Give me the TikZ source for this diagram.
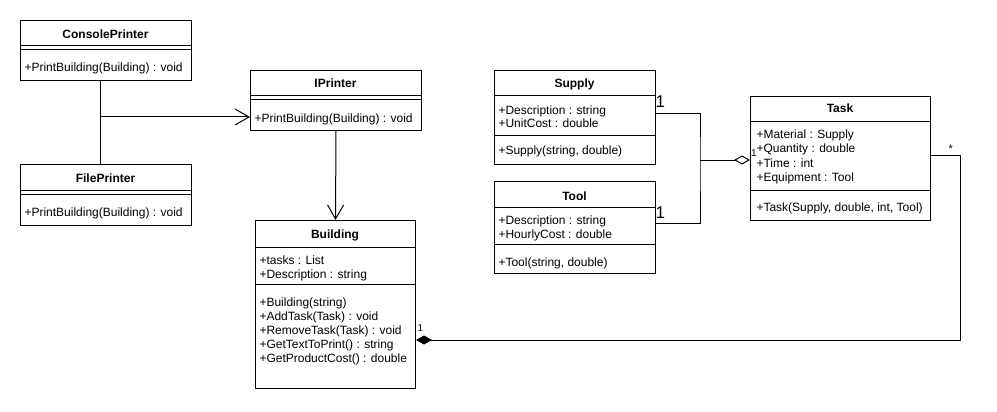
\documentclass[tikz,border=0pt]{standalone}
\usepackage{fontspec}
\setmainfont{Liberation Sans}
\usetikzlibrary{arrows.meta}

\begin{document}
\begin{tikzpicture}[x=1pt, y=-1pt, line width=1pt,
		classbox/.style={draw, anchor=north west, inner sep=0pt},
		title/.style={font=\fontsize{12}{14}\selectfont\bfseries, inner sep=0pt, anchor=base},
		member/.style={font=\fontsize{12}{14}\selectfont, inner sep=0pt, anchor=base west},
		mult/.style={inner sep=0pt, anchor=base west},
		realize/.style={-{Straight Barb[length=14pt,width=16pt]}},
		aggr/.style={-{Diamond[open,length=16pt,width=9pt]}},
		compo/.style={-{Diamond[length=16pt,width=9pt]}}]
		\useasboundingbox (0,0) rectangle (997,412);
		% ConsolePrinter
		\node[classbox, minimum width=171pt, minimum height=60pt] (console) at (20,20) {};
		\node[title] (console-t) at (105.5,39) {ConsolePrinter};
		\draw (20,46) -- (191,46) (20,50) -- (191,50);
		\node[member] (console-m1) at (24,72) {+PrintBuilding(Building) : void};
		% FilePrinter
		\node[classbox, minimum width=171pt, minimum height=61pt] (filep) at (20,164) {};
		\node[title] (filep-t) at (105.5,182) {FilePrinter};
		\draw (20,190) -- (191,190) (20,194) -- (191,194);
		\node[member] (filep-m1) at (24,216) {+PrintBuilding(Building) : void};
		% IPrinter
		\node[classbox, minimum width=171pt, minimum height=60pt] (iprinter) at (250,70) {};
		\node[title] (iprinter-t) at (335.5,88) {IPrinter};
		\draw (250,96) -- (421,96) (250,100) -- (421,100);
		\node[member] (iprinter-m1) at (254,122) {+PrintBuilding(Building) : void};
		% Building
		\node[classbox, minimum width=160pt, minimum height=168pt] (building) at (255,220) {};
		\node[title] (building-t) at (335,238) {Building};
		\draw (255,247) -- (415,247) (255,284) -- (415,284);
		\foreach \t [count=\i] in {+tasks : List, +Description : string}
		{
			\node[member] (building-a\i) at (259,250+14*\i) {\t};
		}
		\foreach \t [count=\i] in {+Building(string), +AddTask(Task) : void, +RemoveTask(Task) : void, +GetTextToPrint() : string, +GetProductCost() : double}
		{
			\node[member] (building-m\i) at (259,292+14*\i) {\t};
		}
		% Supply
		\node[classbox, minimum width=161pt, minimum height=94pt] (supply) at (494,70) {};
		\node[title] (supply-t) at (574.5,88) {Supply};
		\draw (494,96) -- (655,96) (494,135) -- (655,135);
		\foreach \t [count=\i] in {+Description : string, +UnitCost : double}
		{
			\node[member] (supply-a\i) at (498,100+14*\i) {\t};
		}
		\node[member] (supply-m1) at (498,154) {+Supply(string, double)};
		% Tool
		\node[classbox, minimum width=161pt, minimum height=92pt] (tool) at (494,181) {};
		\node[title] (tool-t) at (574.5,200) {Tool};
		\draw (494,207) -- (655,207) (494,244) -- (655,244);
		\foreach \t [count=\i] in {+Description : string, +HourlyCost : double}
		{
			\node[member] (tool-a\i) at (498,210+14*\i) {\t};
		}
		\node[member] (tool-m1) at (498,266) {+Tool(string, double)};
		% Task
		\node[classbox, minimum width=180pt, minimum height=124pt] (task) at (750,96) {};
		\node[title] (task-t) at (840,113) {Task};
		\draw (750,122) -- (930,122) (750,190) -- (930,190);
		\foreach \t [count=\i] in {+Material : Supply, +Quantity : double, +Time : int, +Equipment : Tool}
		{
			\node[member] (task-a\i) at (756,125+14*\i) {\t};
		}
		\node[member] (task-m1) at (756,211) {+Task(Supply, double, int, Tool)};
		% printers realise IPrinter
		\coordinate (split) at (100,117);
		\draw (console.south -| split) -- (filep.north -| split);
		\draw[realize] (split) -- (iprinter.west |- split);
		\draw[realize] (iprinter.south) -- (building.north);
		% Supply and Tool aggregated in Task
		\coordinate (join) at (700,160);
		\draw ([yshift=4pt]supply.east) -| (join) |- ([yshift=4pt]tool.east);
		\draw[aggr] (join) -- (task.west |- join);
		% Task composed in Building
		\coordinate (bend) at (960,340);
		\draw[compo] ([yshift=3pt]task.east) -| (bend) -- (building.east |- bend);
		% multiplicities
		\node[mult, font=\fontsize{17}{17}\selectfont] (supply-n) at (655,107) {1};
		\node[mult, font=\fontsize{17}{17}\selectfont] (tool-n) at (655,218) {1};
		\node[mult, font=\fontsize{10}{10}\selectfont] (task-n) at (750.5,157) {1};
		\node[mult, font=\fontsize{11}{11}\selectfont] (task-star) at (948,153) {*};
		\node[mult, font=\fontsize{10}{10}\selectfont] (building-n) at (417,331) {1};
	\end{tikzpicture}
\end{document}
